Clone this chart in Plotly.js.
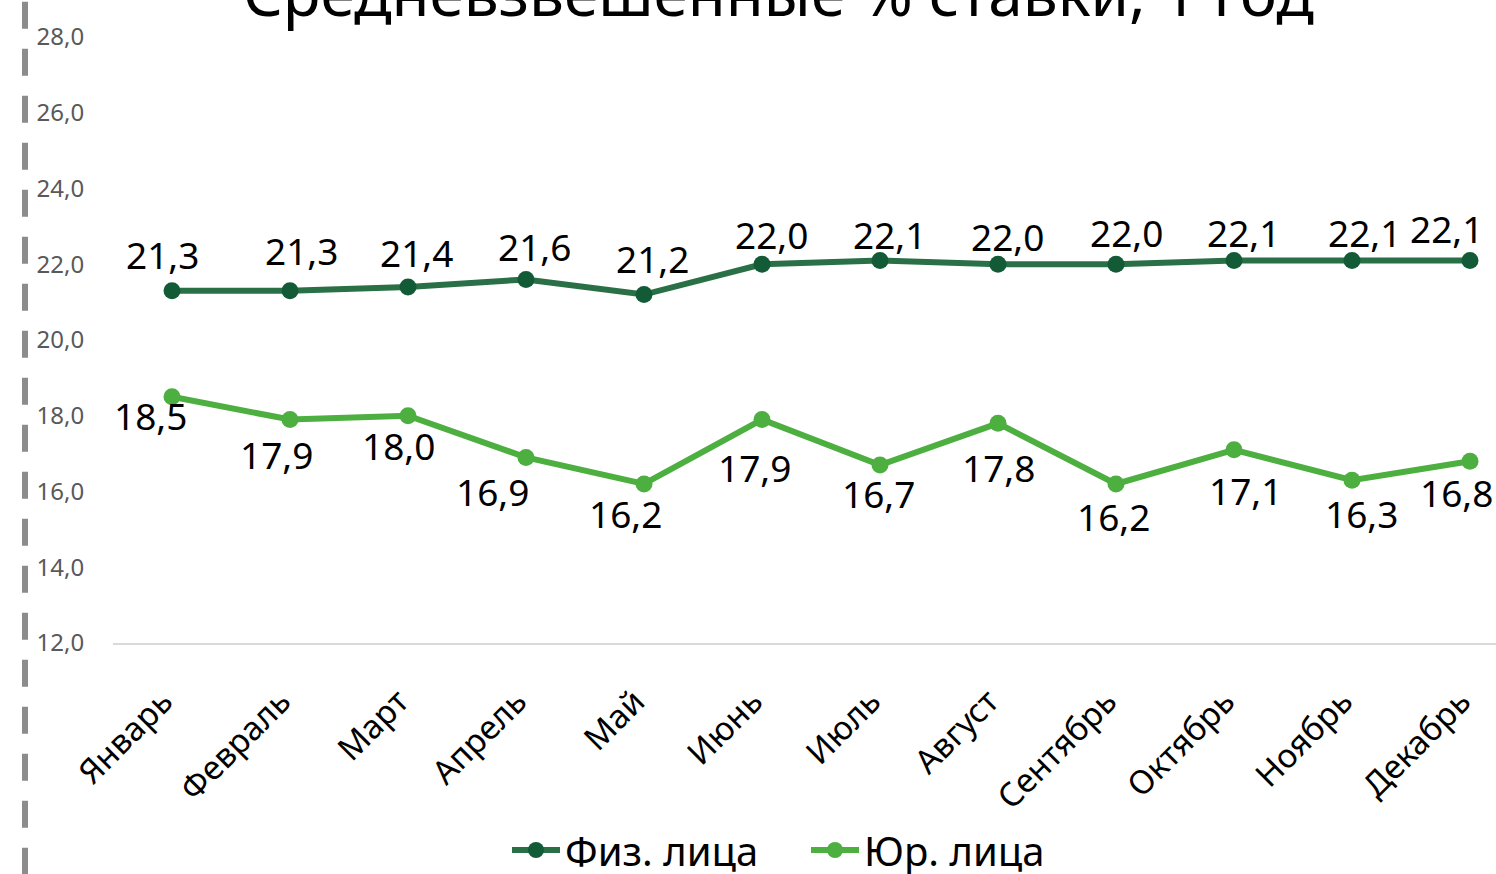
<!DOCTYPE html>
<html>
<head>
<meta charset="utf-8">
<script src="https://cdn.plot.ly/plotly-3.0.1.min.js"></script>
<style>html,body{margin:0;padding:0;background:#fff;}#chart{width:1496px;height:874px;}</style>
</head>
<body>
<div id="chart"></div>
<script>
// ---- data ----
const months = ["Январь","Февраль","Март","Апрель","Май","Июнь","Июль","Август","Сентябрь","Октябрь","Ноябрь","Декабрь"];
const fizValues = [21.3, 21.3, 21.4, 21.6, 21.2, 22.0, 22.1, 22.0, 22.0, 22.1, 22.1, 22.1];
const yurValues = [18.5, 17.9, 18.0, 16.9, 16.2, 17.9, 16.7, 17.8, 16.2, 17.1, 16.3, 16.8];
const fizName = "Физ. лица";
const yurName = "Юр. лица";
const titleText = "Средневзвешенные % ставки, 1 год";
const yTicks = [12, 14, 16, 18, 20, 22, 24, 26, 28];

// ---- style: label offsets (px) ----
const fizLabelShift = [[-10,-36],[11,-40],[8,-34],[8,-33],[8,-36],[9,-30],[9,-26],[9,-28],[10,-32],[9,-28],[12,-28],[-24,-32]];
const yurLabelShift = [[-22,19],[-14,35],[-10,30],[-34,34],[-19,30],[-8,48],[-2,29],[0,44],[-3,33],[11,41],[9,33],[-14,31]];

const FONT = "Noto Sans, Open Sans, sans-serif";
const darkLine = "#2A7046", darkMarker = "#135A37";
const lightLine = "#4CAF3F";

const fmt = v => v.toFixed(1).replace(".", ",");

const traces = [
  {x: months, y: fizValues, name: fizName, type: "scatter", mode: "lines+markers",
   line: {color: darkLine, width: 6}, marker: {color: darkMarker, size: 17}, cliponaxis: false},
  {x: months, y: yurValues, name: yurName, type: "scatter", mode: "lines+markers",
   line: {color: lightLine, width: 6}, marker: {color: lightLine, size: 17}, cliponaxis: false}
];

const annotations = [];
months.forEach((m, i) => {
  annotations.push({x: m, y: fizValues[i], xref: "x", yref: "y", text: fmt(fizValues[i]), showarrow: false,
    xshift: fizLabelShift[i][0], yshift: -fizLabelShift[i][1], font: {family: FONT, size: 37, color: "#000"}});
  annotations.push({x: m, y: yurValues[i], xref: "x", yref: "y", text: fmt(yurValues[i]), showarrow: false,
    xshift: yurLabelShift[i][0], yshift: -yurLabelShift[i][1], font: {family: FONT, size: 37, color: "#000"}});
});

const L = 113, T = 37, B = 231, Wd = 1496, Ht = 874;
const plotW = Wd - L, plotH = Ht - T - B;
const step = 118;

annotations.push({xref: "paper", yref: "paper", x: (778 - L) / plotW, y: 1 + (T - 36) / plotH,
  xanchor: "center", yanchor: "bottom", text: titleText, showarrow: false,
  font: {family: FONT, size: 62, color: "#000"}});

const layout = {
  width: Wd, height: Ht,
  margin: {l: L, r: 0, t: T, b: B, pad: 0, autoexpand: false},
  paper_bgcolor: "#fff", plot_bgcolor: "#fff",
  separators: ", ",
  showlegend: true,
  legend: {orientation: "h", xref: "container", yref: "container", x: 806 / Wd, xanchor: "center",
    y: (Ht - 850) / Ht, yanchor: "middle",
    font: {family: FONT, size: 40, color: "#000"}, itemwidth: 48, entrywidth: 236, entrywidthmode: "pixels"},
  xaxis: {type: "category", range: [-0.5, plotW / step - 0.5], showgrid: false, zeroline: false, automargin: false,
    showline: true, linecolor: "#d9d9d9", linewidth: 2, tickangle: -45,
    ticks: "outside", ticklen: 24, tickcolor: "rgba(0,0,0,0)", ticklabelshift: -9,
    tickfont: {family: FONT, size: 33, color: "#000"}, fixedrange: true},
  yaxis: {range: [12, 28], tickvals: yTicks, tickformat: ".1f", showgrid: false, zeroline: false, automargin: false,
    showline: false, ticks: "outside", ticklen: 23, tickcolor: "rgba(0,0,0,0)",
    tickfont: {family: FONT, size: 24, color: "#595959"}, fixedrange: true},
  annotations: annotations,
  shapes: [{type: "line", xref: "paper", yref: "paper",
    x0: (25 - L) / plotW, x1: (25 - L) / plotW,
    y0: 1 + (T - 1.7) / plotH, y1: -(B + 10) / plotH,
    line: {color: "#8c8c8c", width: 6, dash: "27px,20px"}}]
};

Plotly.newPlot("chart", traces, layout, {staticPlot: true, displayModeBar: false});
</script>
</body>
</html>
